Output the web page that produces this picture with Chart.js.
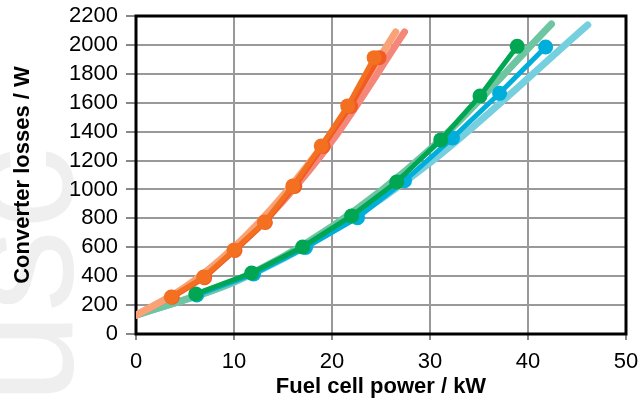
<!DOCTYPE html>
<html>
<head>
<meta charset="utf-8">
<script src="https://cdn.jsdelivr.net/npm/chart.js@4"></script>
<style>
  html, body { margin: 0; padding: 0; background: #fff; }
  #wrap { width: 640px; height: 402px; }
</style>
</head>
<body>
<div id="wrap"><canvas id="chart" width="640" height="402"></canvas></div>
<script>
// axis setup
const xRange = [0, 50];
const yRange = [0, 2200];
const xStep = 10;
const yStep = 200;

// measured points (kW, W)
const orange1X = [3.6, 6.9, 10.0, 13.1, 16.0, 18.9, 21.6, 24.3];
const orange1Y = [256, 394, 581, 775, 1024, 1301, 1578, 1912];
const orange2X = [3.7, 7.0, 10.1, 13.2, 16.2, 19.1, 21.9, 24.8];
const orange2Y = [254, 390, 578, 772, 1020, 1298, 1574, 1912];
const greenX = [6.1, 11.8, 17.0, 22.0, 26.6, 31.1, 35.1, 38.9];
const greenY = [277, 422, 602, 817, 1052, 1343, 1647, 1990];
const blueX = [6.2, 12.0, 17.3, 22.6, 27.4, 32.3, 37.1, 41.8];
const blueY = [270, 415, 598, 805, 1060, 1356, 1665, 1986];

// trend curves
const trendOrangeX = [0, 5, 10, 15, 20, 26.5];
const trendOrangeY = [130, 324, 600, 958, 1397, 2090];
const trendSalmonX = [0, 5, 10, 15, 20, 27.4];
const trendSalmonY = [130, 317, 580, 919, 1335, 2090];
const trendGreenX = [0, 10, 20, 30, 42.4];
const trendGreenY = [130, 363, 745, 1278, 2145];
const trendBlueX = [0, 10, 20, 30, 46.1];
const trendBlueY = [130, 358, 712, 1184, 2138];

const toPoints = (xs, ys) => xs.map((x, i) => ({ x: x, y: ys[i] }));

const dataLine = (label, xs, ys, color) => ({
    label: label,
    data: toPoints(xs, ys),
    showLine: true,
    borderColor: color,
    backgroundColor: color,
    borderWidth: 5,
    pointRadius: 7.5,
    pointHoverRadius: 7.5,
    pointBorderWidth: 0,
    tension: 0
});

const trendLine = (label, xs, ys, color) => ({
    label: label,
    data: toPoints(xs, ys),
    showLine: true,
    borderColor: color,
    borderWidth: 7,
    borderCapStyle: 'round',
    pointRadius: 0,
    cubicInterpolationMode: 'monotone'
});

// faint watermark on the left + black frame round the plot
const decor = {
    id: 'decor',
    beforeDraw(chart) {
        const ctx = chart.ctx;
        ctx.save();
        ctx.translate(72, 404);
        ctx.rotate(-Math.PI / 2);
        ctx.fillStyle = '#efefef';
        ctx.font = '165px "Liberation Sans"';
        ctx.fillText('usc', 0, 0);
        ctx.restore();
    },
    beforeDatasetsDraw(chart) {
        const a = chart.chartArea;
        const ctx = chart.ctx;
        ctx.save();
        ctx.strokeStyle = '#000';
        ctx.lineWidth = 3;
        ctx.strokeRect(a.left, a.top, a.right - a.left, a.bottom - a.top);
        ctx.restore();
    }
};

const tickFont = { family: '"Liberation Sans", Arial, sans-serif', size: 22 };
const titleFont = { family: '"Liberation Sans", Arial, sans-serif', size: 22, weight: 'bold' };

new Chart(document.getElementById('chart'), {
    type: 'scatter',
    data: {
        datasets: [
            dataLine('Orange 1', orange1X, orange1Y, '#F37021'),
            dataLine('Orange 2', orange2X, orange2Y, '#F15A24'),
            dataLine('Green', greenX, greenY, '#00A651'),
            dataLine('Blue', blueX, blueY, '#00AEDB'),
            trendLine('Orange trend', trendOrangeX, trendOrangeY, '#F9A275'),
            trendLine('Salmon trend', trendSalmonX, trendSalmonY, '#F5867A'),
            trendLine('Green trend', trendGreenX, trendGreenY, '#6DC5A1'),
            trendLine('Blue trend', trendBlueX, trendBlueY, '#76CFDE')
        ]
    },
    options: {
        responsive: false,
        animation: false,
        devicePixelRatio: 1,
        layout: { padding: 0 },
        plugins: { legend: { display: false }, tooltip: { enabled: false } },
        scales: {
            x: {
                type: 'linear',
                min: xRange[0],
                max: xRange[1],
                ticks: { stepSize: xStep, font: tickFont, color: '#000', padding: 9, maxRotation: 0, autoSkip: false, callback: (v) => String(v) },
                grid: { color: '#999', lineWidth: 2, tickLength: 6, tickColor: '#888' },
                border: { display: false },
                title: { display: true, text: 'Fuel cell power / kW', font: titleFont, color: '#000', padding: { top: 0, bottom: 2 } },
                afterFit: (s) => { s.height = 68; s.paddingRight = 14; }
            },
            y: {
                type: 'linear',
                min: yRange[0],
                max: yRange[1],
                ticks: { stepSize: yStep, font: tickFont, color: '#000', padding: 8, autoSkip: false, callback: (v) => String(v) },
                grid: { color: '#999', lineWidth: 2, tickLength: 10, tickColor: '#888' },
                border: { display: false },
                title: { display: true, text: 'Converter losses / W', font: titleFont, color: '#000', padding: { top: 10, bottom: 0 } },
                afterFit: (s) => { s.width = 136; s.paddingTop = 16; s.paddingBottom = 0; }
            }
        }
    },
    plugins: [decor]
});
</script>
</body>
</html>
